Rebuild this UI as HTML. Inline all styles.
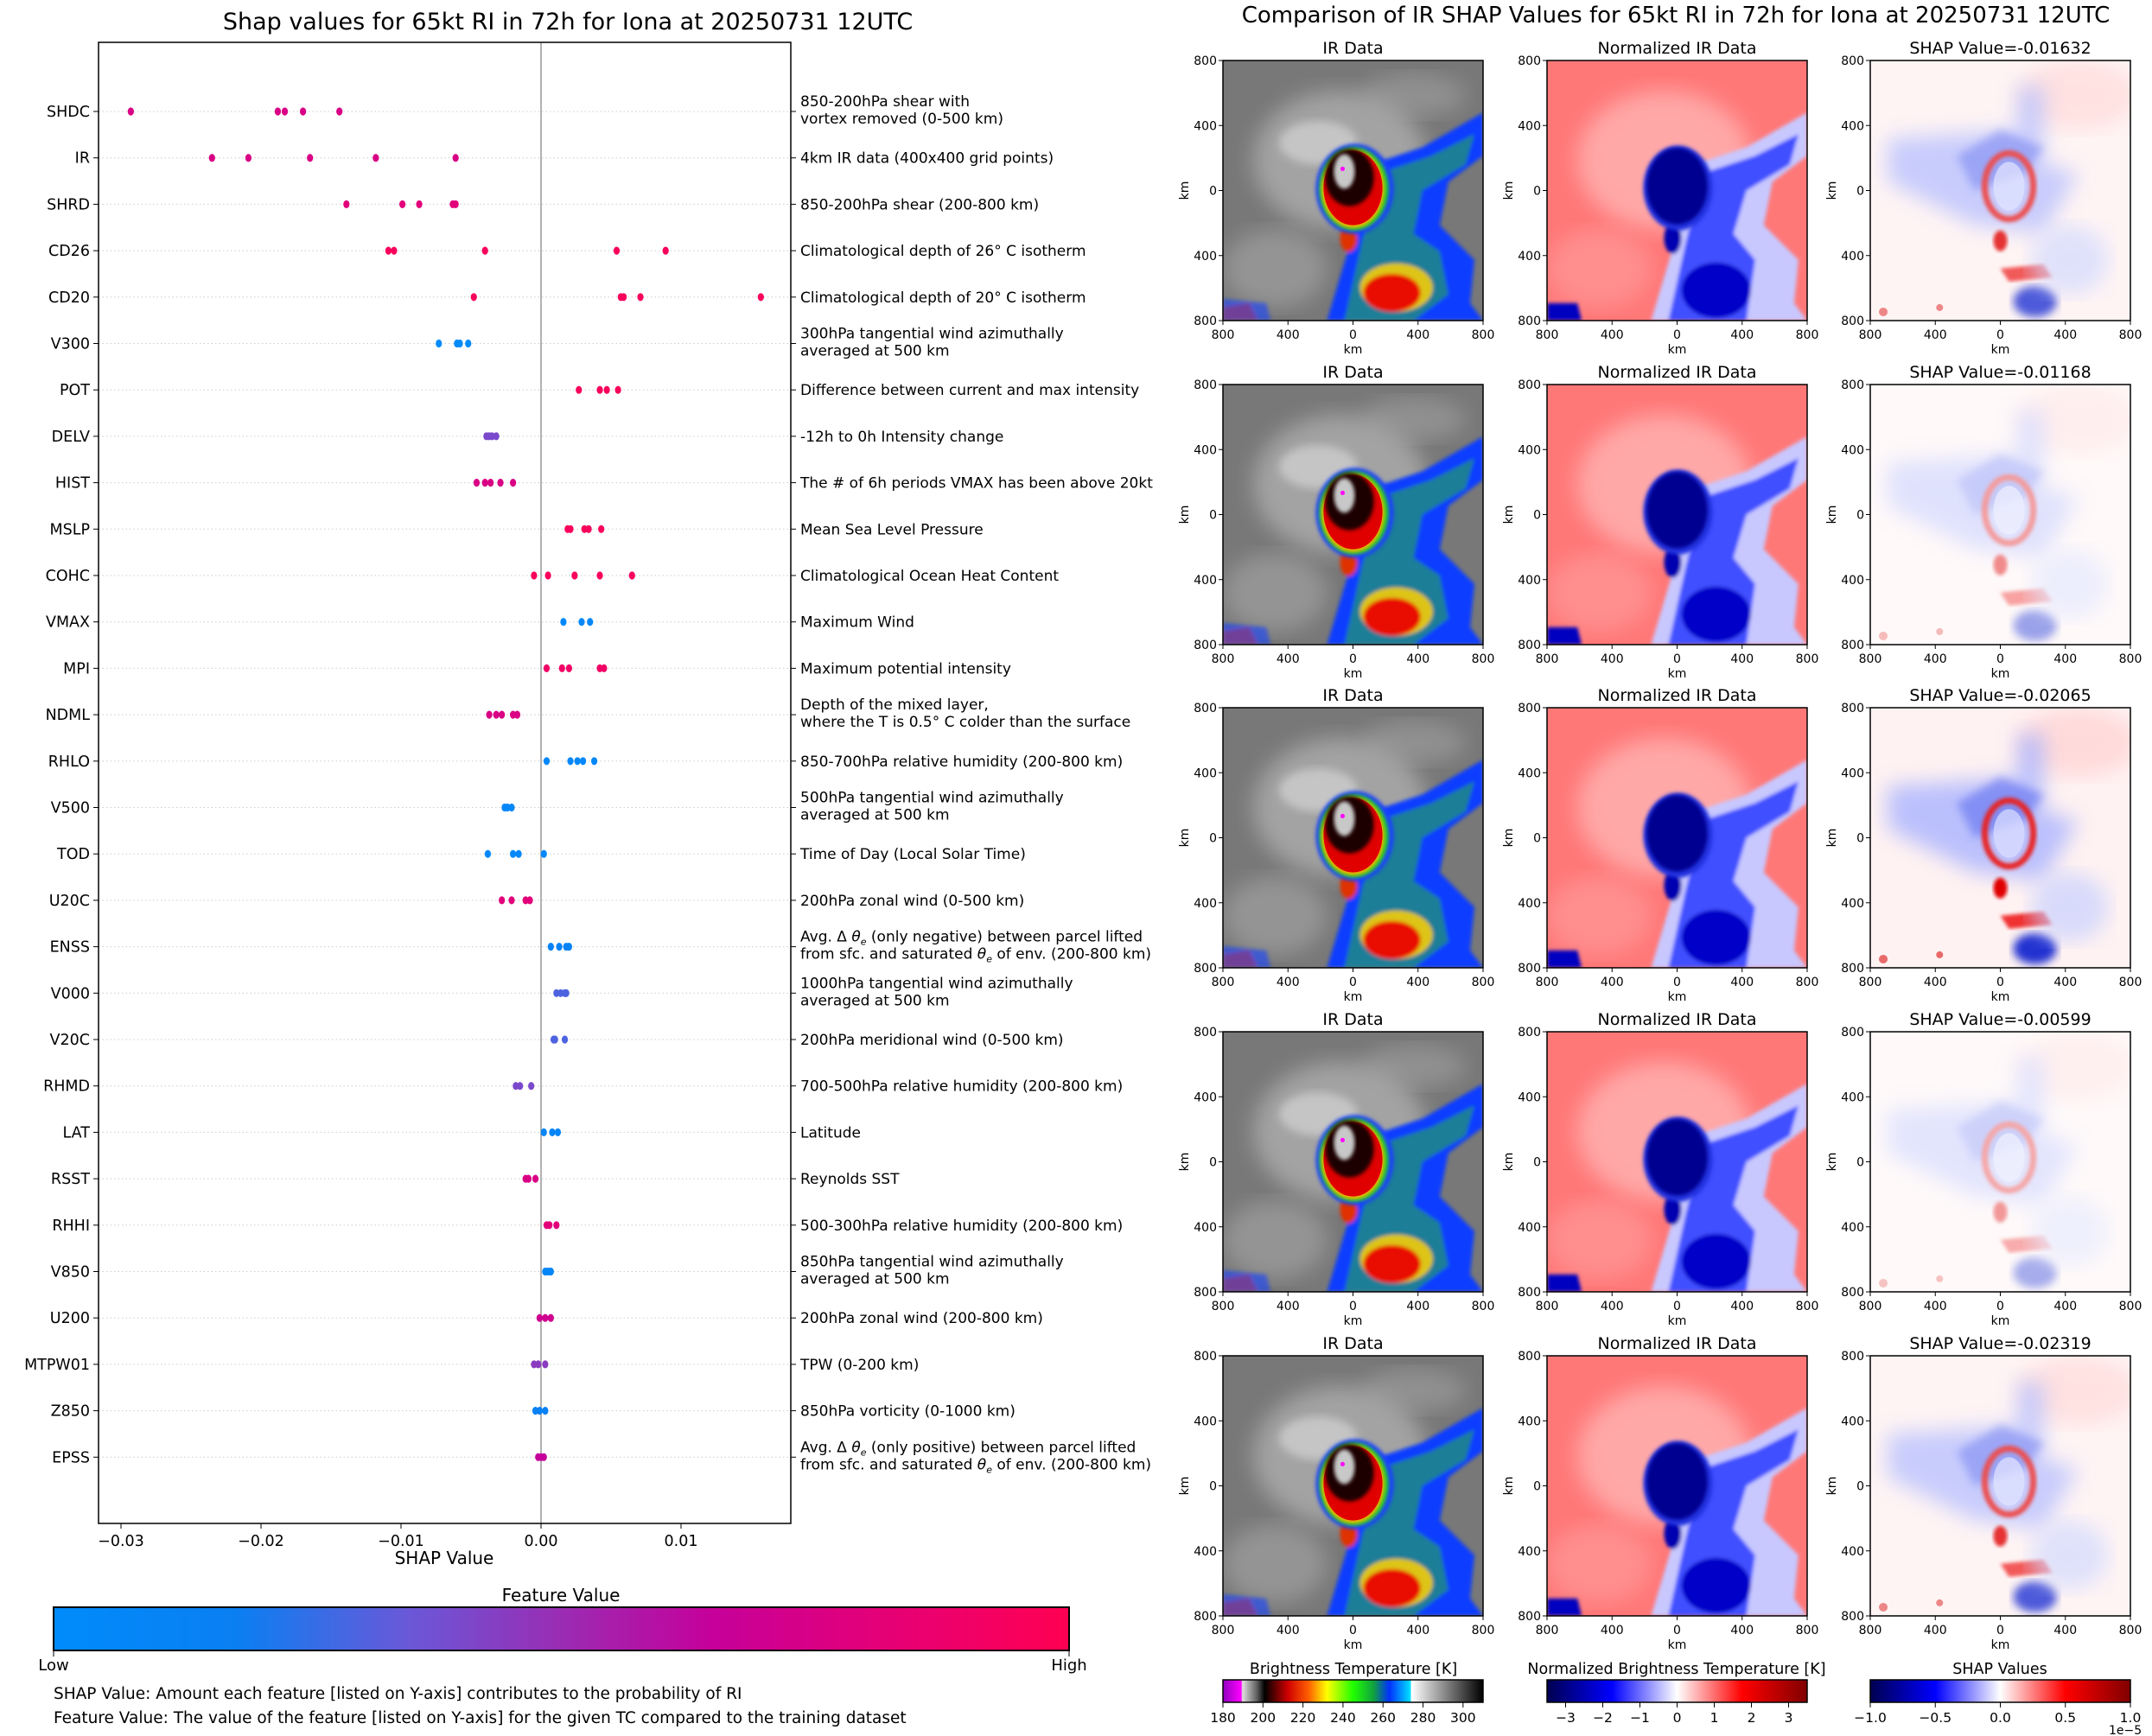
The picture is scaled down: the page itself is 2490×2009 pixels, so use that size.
<!DOCTYPE html>
<html><head><meta charset="utf-8">
<style>
html,body{margin:0;padding:0;background:#fff;}
svg{display:block;font-family:"DejaVu Sans","Liberation Sans",sans-serif;}
</style></head>
<body>
<svg id="root" width="2490" height="2009" viewBox="0 0 2490 2009" xmlns="http://www.w3.org/2000/svg">
<defs>
  <linearGradient id="shapcm" x1="0" x2="1" y1="0" y2="0">
    <stop offset="0" stop-color="#008bfb"/><stop offset="0.18" stop-color="#0a7ff2"/>
    <stop offset="0.35" stop-color="#6a58d8"/><stop offset="0.5" stop-color="#9a2cb3"/>
    <stop offset="0.65" stop-color="#c6009a"/><stop offset="0.8" stop-color="#e2007a"/>
    <stop offset="1" stop-color="#ff0052"/>
  </linearGradient>
  <linearGradient id="ircm" x1="0" x2="1">
    <stop offset="0" stop-color="#9000c0"/><stop offset="0.07" stop-color="#ff00ff"/><stop offset="0.075" stop-color="#e0e0e0"/>
    <stop offset="0.13" stop-color="#606060"/><stop offset="0.16" stop-color="#000"/><stop offset="0.25" stop-color="#d00000"/>
    <stop offset="0.33" stop-color="#ff6000"/><stop offset="0.4" stop-color="#ffff00"/><stop offset="0.5" stop-color="#20ff00"/>
    <stop offset="0.58" stop-color="#10a040"/><stop offset="0.64" stop-color="#0030ff"/><stop offset="0.72" stop-color="#00e0ff"/>
    <stop offset="0.725" stop-color="#ffffff"/><stop offset="1" stop-color="#000"/>
  </linearGradient>
  <linearGradient id="seis" x1="0" x2="1">
    <stop offset="0" stop-color="#000050"/><stop offset="0.25" stop-color="#0000ff"/><stop offset="0.5" stop-color="#ffffff"/>
    <stop offset="0.75" stop-color="#ff0000"/><stop offset="1" stop-color="#800000"/>
  </linearGradient>
  <filter id="b2"><feGaussianBlur stdDeviation="2"/></filter>
  <filter id="b5"><feGaussianBlur stdDeviation="5"/></filter>
  <filter id="b12"><feGaussianBlur stdDeviation="12"/></filter>
  <clipPath id="pc"><rect x="0" y="0" width="300" height="300"/></clipPath>
  <symbol id="irimg" viewBox="0 0 300 300">
    <g clip-path="url(#pc)">
    <rect width="300" height="300" fill="#787878"/>
    <ellipse cx="135" cy="115" rx="100" ry="80" fill="#c0c0c0" opacity="0.6" filter="url(#b12)"/>
    <ellipse cx="110" cy="95" rx="45" ry="25" fill="#dcdcdc" opacity="0.6" filter="url(#b5)"/>
    <ellipse cx="220" cy="40" rx="60" ry="25" fill="#a8a8a8" opacity="0.5" filter="url(#b12)"/>
    <ellipse cx="60" cy="240" rx="60" ry="45" fill="#b0b0b0" opacity="0.5" filter="url(#b12)"/>
    <g filter="url(#b2)">
      <path d="M170 120 L230 100 L300 60 L300 110 L260 140 L250 190 L290 230 L285 280 L300 300 L120 300 L150 200 Z" fill="#0a3cff"/>
      <path d="M180 130 L240 110 L290 85 L280 120 L230 150 L220 200 L250 220 L260 270 L220 300 L140 300 L160 210 Z" fill="#30c030" opacity="0.5"/>
      <ellipse cx="200" cy="262" rx="42" ry="28" fill="#ffd000" opacity="0.85"/>
      <ellipse cx="195" cy="268" rx="33" ry="22" fill="#e81000"/>
      <ellipse cx="145" cy="205" rx="10" ry="16" fill="#e03000"/>
      <path d="M0 285 L30 280 L40 300 L0 300Z" fill="#ff4000"/>
      <path d="M0 275 L50 280 L55 300 L0 300Z" fill="#1040ff" opacity="0.6"/>
    </g>
    <ellipse cx="152" cy="148" rx="45" ry="52" fill="#1a40ff" filter="url(#b2)"/>
    <ellipse cx="151" cy="148" rx="40" ry="48" fill="#20d020" filter="url(#b2)"/>
    <ellipse cx="150" cy="148" rx="36" ry="45" fill="#ffb000" filter="url(#b2)"/>
    <ellipse cx="150" cy="147" rx="34" ry="43" fill="#e00000"/>
    <ellipse cx="146" cy="135" rx="28" ry="33" fill="#1a0000" filter="url(#b2)"/>
    <ellipse cx="140" cy="128" rx="12" ry="20" fill="#c8c8c8" filter="url(#b2)"/>
    <circle cx="138" cy="125" r="2.5" fill="#ff00ff"/>
    </g>
  </symbol>
  <symbol id="nimg" viewBox="0 0 300 300">
    <g clip-path="url(#pc)">
    <rect width="300" height="300" fill="#ff7878"/>
    <ellipse cx="135" cy="115" rx="100" ry="80" fill="#ffc8c8" opacity="0.6" filter="url(#b12)"/>
    <ellipse cx="60" cy="240" rx="60" ry="45" fill="#ffb0b0" opacity="0.4" filter="url(#b12)"/>
    <g filter="url(#b2)">
      <path d="M170 120 L230 100 L300 60 L300 110 L260 140 L250 190 L290 230 L285 280 L300 300 L120 300 L150 200 Z" fill="#c8c8ff"/>
      <path d="M180 130 L240 110 L290 85 L280 120 L230 150 L215 200 L240 230 L230 300 L140 300 L160 210 Z" fill="#4050ff"/>
      <ellipse cx="195" cy="265" rx="40" ry="32" fill="#0000c8"/>
      <ellipse cx="145" cy="205" rx="10" ry="18" fill="#0000b0"/>
      <path d="M0 280 L35 280 L40 300 L0 300Z" fill="#0000c0"/>
    </g>
    <ellipse cx="151" cy="147" rx="40" ry="49" fill="#2030e0" filter="url(#b2)"/>
    <ellipse cx="150" cy="145" rx="35" ry="44" fill="#000090" filter="url(#b2)"/>
    </g>
  </symbol>
  <symbol id="simg" viewBox="0 0 300 300">
    <g clip-path="url(#pc)">
    <rect width="300" height="300" fill="#fff2f2"/>
    <ellipse cx="240" cy="40" rx="70" ry="40" fill="#ffd0d0" opacity="0.7" filter="url(#b12)"/>
    <path d="M20 90 L170 80 L170 30 L200 30 L200 120 L240 130 L200 200 L120 190 L60 160 L20 140Z" fill="#aab4ff" opacity="0.8" filter="url(#b12)"/>
    <path d="M100 110 L150 80 L200 100 L180 130 L120 150Z" fill="#6070f0" opacity="0.6" filter="url(#b5)"/>
    <ellipse cx="160" cy="145" rx="28" ry="38" fill="none" stroke="#e82020" stroke-width="7" filter="url(#b2)"/>
    <ellipse cx="160" cy="145" rx="18" ry="28" fill="#dde0ff" opacity="0.7"/>
    <ellipse cx="150" cy="208" rx="8" ry="12" fill="#e00000" filter="url(#b2)"/>
    <path d="M150 240 L200 235 L210 250 L160 255Z" fill="#f03030" filter="url(#b2)"/>
    <ellipse cx="190" cy="278" rx="25" ry="18" fill="#2030d0" filter="url(#b5)"/>
    <ellipse cx="230" cy="230" rx="45" ry="40" fill="#c8d0ff" opacity="0.7" filter="url(#b12)"/>
    <circle cx="15" cy="290" r="5" fill="#e03030" opacity="0.7"/>
    <circle cx="80" cy="285" r="4" fill="#e03030" opacity="0.7"/>
    </g>
  </symbol>
</defs>

<text x="657" y="34" font-size="27" text-anchor="middle">Shap values for 65kt RI in 72h for Iona at 20250731 12UTC</text>
<g id="left"></g>

<text x="649" y="1853" font-size="20" text-anchor="middle">Feature Value</text>
<rect x="62" y="1860" width="1175" height="50" fill="url(#shapcm)" stroke="#000" stroke-width="2"/>
<line x1="62" y1="1910" x2="62" y2="1917" stroke="#000"/><line x1="1237" y1="1910" x2="1237" y2="1917" stroke="#000"/>
<text x="62" y="1933" font-size="18" text-anchor="middle">Low</text>
<text x="1237" y="1933" font-size="18" text-anchor="middle">High</text>
<text x="62" y="1966" font-size="18.5">SHAP Value: Amount each feature [listed on Y-axis] contributes to the probability of RI</text>
<text x="62" y="1994" font-size="18.5">Feature Value: The value of the feature [listed on Y-axis] for the given TC compared to the training dataset</text>

<text x="1939" y="26" font-size="26" text-anchor="middle">Comparison of IR SHAP Values for 65kt RI in 72h for Iona at 20250731 12UTC</text>
<g id="right"></g>

<g>
  <text x="1566" y="1937" font-size="17.5" text-anchor="middle">Brightness Temperature [K]</text>
  <rect x="1415" y="1944" width="301" height="26" fill="url(#ircm)" stroke="#000" stroke-width="1.5"/>
  <g id="irticks"></g>
</g>
<g>
  <text x="1940" y="1937" font-size="17.5" text-anchor="middle">Normalized Brightness Temperature [K]</text>
  <rect x="1790" y="1944" width="301" height="26" fill="url(#seis)" stroke="#000" stroke-width="1.5"/>
  <g id="nticks"></g>
</g>
<g>
  <text x="2314" y="1937" font-size="17.5" text-anchor="middle">SHAP Values</text>
  <rect x="2164" y="1944" width="301" height="26" fill="url(#seis)" stroke="#000" stroke-width="1.5"/>
  <g id="sticks"></g>
  <text x="2440" y="2007" font-size="14">1e−5</text>
</g>
</svg>
<script>
const features = ["SHDC","IR","SHRD","CD26","CD20","V300","POT","DELV","HIST","MSLP","COHC","VMAX","MPI","NDML","RHLO","V500","TOD","U20C","ENSS","V000","V20C","RHMD","LAT","RSST","RHHI","V850","U200","MTPW01","Z850","EPSS"];
const descriptions = [
 ["850-200hPa shear with","vortex removed (0-500 km)"],["4km IR data (400x400 grid points)"],["850-200hPa shear (200-800 km)"],
 ["Climatological depth of 26° C isotherm"],["Climatological depth of 20° C isotherm"],["300hPa tangential wind azimuthally","averaged at 500 km"],
 ["Difference between current and max intensity"],["-12h to 0h Intensity change"],["The # of 6h periods VMAX has been above 20kt"],
 ["Mean Sea Level Pressure"],["Climatological Ocean Heat Content"],["Maximum Wind"],["Maximum potential intensity"],
 ["Depth of the mixed layer,","where the T is 0.5° C colder than the surface"],["850-700hPa relative humidity (200-800 km)"],
 ["500hPa tangential wind azimuthally","averaged at 500 km"],["Time of Day (Local Solar Time)"],["200hPa zonal wind (0-500 km)"],
 ["Avg. Δ θe (only negative) between parcel lifted","from sfc. and saturated θe of env. (200-800 km)"],
 ["1000hPa tangential wind azimuthally","averaged at 500 km"],["200hPa meridional wind (0-500 km)"],["700-500hPa relative humidity (200-800 km)"],
 ["Latitude"],["Reynolds SST"],["500-300hPa relative humidity (200-800 km)"],["850hPa tangential wind azimuthally","averaged at 500 km"],
 ["200hPa zonal wind (200-800 km)"],["TPW (0-200 km)"],["850hPa vorticity (0-1000 km)"],
 ["Avg. Δ θe (only positive) between parcel lifted","from sfc. and saturated θe of env. (200-800 km)"]];
const shapValues = [
 [-0.0293,-0.0188,-0.0183,-0.0170,-0.0144],[-0.0235,-0.0209,-0.0165,-0.0118,-0.0061],[-0.0139,-0.0099,-0.0087,-0.0063,-0.0061],
 [-0.0109,-0.0105,-0.0040,0.0054,0.0089],[-0.0048,0.0057,0.0059,0.0071,0.0157],[-0.0073,-0.0060,-0.0058,-0.0052],
 [0.0027,0.0042,0.0047,0.0055],[-0.0039,-0.0037,-0.0035,-0.0032],[-0.0046,-0.0040,-0.0036,-0.0029,-0.0020],
 [0.0019,0.0021,0.0031,0.0034,0.0043],[-0.0005,0.0005,0.0024,0.0042,0.0065],[0.0016,0.0029,0.0035],
 [0.0004,0.0015,0.0020,0.0042,0.0045],[-0.0037,-0.0032,-0.0028,-0.0020,-0.0017],[0.0004,0.0021,0.0026,0.0030,0.0038],
 [-0.0026,-0.0024,-0.0021],[-0.0038,-0.0020,-0.0016,0.0002],[-0.0028,-0.0021,-0.0011,-0.0008],
 [0.0007,0.0013,0.0018,0.0020],[0.0011,0.0014,0.0017,0.0018],[0.0009,0.0010,0.0017],[-0.0018,-0.0015,-0.0007],
 [0.0002,0.0008,0.0012],[-0.0011,-0.0009,-0.0004],[0.0004,0.0006,0.0011],[0.0003,0.0005,0.0007],
 [-0.0001,0.0003,0.0007],[-0.0005,-0.0002,0.0003],[-0.0004,-0.0001,0.0003],[-0.0002,0.0000,0.0002]];
const featureValues = [0.75,0.75,0.8,0.95,0.95,0.0,0.95,0.4,0.75,0.95,0.95,0.05,0.9,0.75,0.05,0.05,0.05,0.8,0.12,0.3,0.3,0.4,0.08,0.75,0.8,0.08,0.7,0.45,0.15,0.65];
const xTicks = [-0.03,-0.02,-0.01,0.00,0.01];
const xTickLabels = ["−0.03","−0.02","−0.01","0.00","0.01"];
const panelTitles2 = ["SHAP Value=-0.01632","SHAP Value=-0.01168","SHAP Value=-0.02065","SHAP Value=-0.00599","SHAP Value=-0.02319"];
const shapStrength = [0.8,0.45,1.0,0.4,0.8];
const irTickVals=[180,200,220,240,260,280,300];
const normTickVals=[-3,-2,-1,0,1,2,3];
const shapTickVals=["−1.0","−0.5","0.0","0.5","1.0"];

const NS="http://www.w3.org/2000/svg";
function mk(tag,attrs,parent){const e=document.createElementNS(NS,tag);for(const k in attrs)e.setAttribute(k,attrs[k]);if(parent)parent.appendChild(e);return e;}
const L={x0:114,x1:915,y0:49,y1:1763};
const xs=v=>626+v*16200;
const ys=i=>129+i*53.7;
const stops=[[0,[0,139,251]],[0.18,[10,127,242]],[0.35,[106,88,216]],[0.5,[154,44,179]],[0.65,[198,0,154]],[0.8,[226,0,122]],[1,[255,0,82]]];
function cmap(t){for(let i=1;i<stops.length;i++){if(t<=stops[i][0]){const a=stops[i-1],b=stops[i];const f=(t-a[0])/(b[0]-a[0]);const c=a[1].map((v,j)=>Math.round(v+(b[1][j]-v)*f));return 'rgb('+c.join(',')+')';}}return 'rgb(255,0,82)';}
const left=document.getElementById('left');
features.forEach((f,i)=>{
  const g=mk('line',{x1:L.x0,x2:L.x1,y1:ys(i),y2:ys(i),stroke:'#ccc','stroke-width':1,'stroke-dasharray':'1.5,3'},left);
  
  
});
const zl=mk('line',{x1:xs(0),x2:xs(0),y1:L.y0,y2:L.y1,stroke:'#999','stroke-width':1.5},left);


features.forEach((f,i)=>{
  shapValues[i].forEach(v=>{
    const d=mk('ellipse',{cx:xs(v),cy:ys(i),rx:3.6,ry:4.6,fill:cmap(featureValues[i])},left);
    
    
  });
  const lb=mk('text',{x:L.x0-10,y:ys(i)+6,'font-size':17.5,'text-anchor':'end'},left);
  lb.textContent=f;
  
  
  mk('line',{x1:L.x0-6,x2:L.x0,y1:ys(i),y2:ys(i),stroke:'#000'},left);
  const desc=descriptions[i];
  const off=desc.length===1?[6]:[-6,14];
  mk('line',{x1:L.x1,x2:L.x1+6,y1:ys(i),y2:ys(i),stroke:'#000'},left);
  desc.forEach((line,k)=>{
    const t=mk('text',{x:926,y:ys(i)+off[k],'font-size':17},left);
    
    
    const parts=line.split('θe');
    parts.forEach((p,pi)=>{
      const s=mk('tspan',{},t);s.textContent=p;
      if(pi<parts.length-1){
        const th=mk('tspan',{'font-style':'italic'},t);th.textContent='θ';
        const sub=mk('tspan',{'font-size':11,'font-style':'italic',dy:4},t);sub.textContent='e';
        const back=mk('tspan',{dy:-4},t);back.textContent='\u200b';
      }
    });
  });
});
const frame=mk('rect',{x:L.x0,y:L.y0,width:L.x1-L.x0,height:L.y1-L.y0,fill:'none',stroke:'#000','stroke-width':1.5},left);


xTicks.forEach((v,i)=>{
  mk('line',{x1:xs(v),x2:xs(v),y1:L.y1,y2:L.y1+6,stroke:'#000'},left);
  const t=mk('text',{x:xs(v),y:L.y1+26,'font-size':17.5,'text-anchor':'middle'},left);
  t.textContent=xTickLabels[i];
  
  
});
const xl=mk('text',{x:514,y:1810,'font-size':20,'text-anchor':'middle'},left);
xl.textContent='SHAP Value';



const right=document.getElementById('right');
const colX=[1415,1790,2164], rowY=[70,445,819,1194,1569], PW=301, PH=301;
const kmTicks=["800","400","0","400","800"];
rowY.forEach((y,r)=>{
  const titles=["IR Data","Normalized IR Data",panelTitles2[r]];
  const syms=["#irimg","#nimg","#simg"];
  colX.forEach((x,c)=>{
    const g=mk('g',{},right);
    
    
    const u=mk('use',{href:syms[c],x:x,y:y,width:PW,height:PH},g);
    if(c===2) u.setAttribute('opacity',shapStrength[r]);
    mk('rect',{x:x,y:y,width:PW,height:PH,fill:'none',stroke:'#000','stroke-width':1.5},g);
    const tt=mk('text',{x:x+PW/2,y:y-8,'font-size':19,'text-anchor':'middle'},g);
    tt.textContent=titles[c];
    kmTicks.forEach((lab,k)=>{
      const ty=y+k*PH/4, tx=x+k*PW/4;
      mk('line',{x1:x-5,x2:x,y1:ty,y2:ty,stroke:'#000'},g);
      const a=mk('text',{x:x-7,y:ty+5,'font-size':14,'text-anchor':'end'},g);a.textContent=lab;
      mk('line',{x1:tx,x2:tx,y1:y+PH,y2:y+PH+5,stroke:'#000'},g);
      const b=mk('text',{x:tx,y:y+PH+21,'font-size':14,'text-anchor':'middle'},g);b.textContent=lab;
    });
    const kx=mk('text',{x:x+PW/2,y:y+PH+38,'font-size':14,'text-anchor':'middle'},g);kx.textContent='km';
    const ky=mk('text',{x:0,y:0,'font-size':14,'text-anchor':'middle',transform:'translate('+(x-40)+','+(y+PH/2)+') rotate(-90)'},g);ky.textContent='km';
  });
});
function ticks(id,vals,pos){const g=document.getElementById(id);vals.forEach((v,i)=>{const x=pos(v,i);mk('line',{x1:x,x2:x,y1:1970,y2:1976,stroke:'#000'},g);const t=mk('text',{x:x,y:1993,'font-size':15.5,'text-anchor':'middle'},g);t.textContent=String(v).replace('-','−');});}
ticks('irticks',irTickVals,v=>1415+(v-180)*301/130);
ticks('nticks',normTickVals,v=>1940.5+v*301/7);
ticks('sticks',shapTickVals,(v,i)=>2164+i*301/4);
</script>
</body></html>
